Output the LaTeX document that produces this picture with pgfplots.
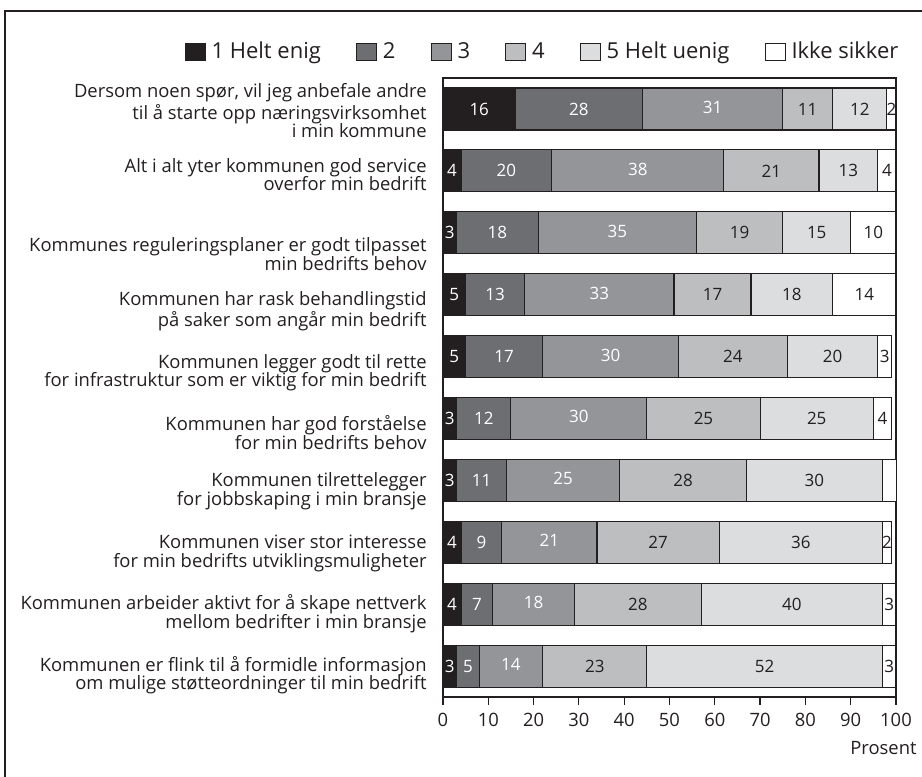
\documentclass[border=0pt]{standalone}
\usepackage{fontspec}
\setmainfont{Open Sans}
\usepackage{pgfplots}
\pgfplotsset{compat=1.18}
\usepackage{pgfplotstable}

\definecolor{frame}{HTML}{231F20}
\definecolor{s1}{HTML}{231F20}
\definecolor{s2}{HTML}{6D6E71}
\definecolor{s3}{HTML}{939598}
\definecolor{s4}{HTML}{BCBEC0}
\definecolor{s5}{HTML}{DCDDDE}
\definecolor{s6}{HTML}{FFFFFF}

% Share of answers (percent) per statement, from "1 Helt enig" to "Ikke sikker"
\pgfplotstableread{
row c1 c2 c3 c4 c5 c6
1  16 28 31 11 12 2
2  4  20 38 21 13 4
3  3  18 35 19 15 10
4  5  13 33 17 18 14
5  5  17 30 24 20 3
6  3  12 30 25 25 4
7  3  11 25 28 30 4
8  4  9  21 27 36 2
9  4  7  18 28 40 3
10 3  5  14 23 52 3
}\survey

% fixed space after a legend entry
\newcommand\gap{\rule{14.5pt}{0pt}}

\begin{document}
\begin{tikzpicture}
\path[use as bounding box, clip] (-221.5pt,-40pt) rectangle (239.5pt,348.5pt);
\draw[frame, line width=1.1pt] (-219pt,343pt) rectangle (260pt,-80pt);
\begin{axis}[
  scale only axis,
  width=226.5pt, height=309.5pt,
  xbar stacked,
  bar width=21pt,
  y dir=reverse,
  xmin=0, xmax=100, ymin=0.5, ymax=10.5,
  clip=true,
  axis line style={frame, line width=0.7pt},
  xtick={0,10,...,100},
  xtick pos=bottom,
  tick align=outside,
  major tick length=4pt,
  x tick style={frame, line width=0.6pt},
  y tick style={draw=none},
  /pgf/number format/assume math mode=true,
  xticklabel style={font=\fontsize{9.2}{10}\selectfont, text=frame, inner sep=0pt, yshift=-4pt},
  ytick={1.03,2.06,3.34,4.27,5.26,6.23,7.18,8.18,9.15,10.15},
  yticklabels={
    {Dersom noen spør, vil jeg anbefale andre\\til å starte opp næringsvirksomhet\\i min kommune},
    {Alt i alt yter kommunen god service\\overfor min bedrift},
    {Kommunes reguleringsplaner er godt tilpasset\\min bedrifts behov},
    {Kommunen har rask behandlingstid\\på saker som angår min bedrift},
    {Kommunen legger godt til rette\\for infrastruktur som er viktig for min bedrift},
    {Kommunen har god forståelse\\for min bedrifts behov},
    {Kommunen tilrettelegger\\for jobbskaping i min bransje},
    {Kommunen viser stor interesse\\for min bedrifts utviklingsmuligheter},
    {Kommunen arbeider aktivt for å skape nettverk\\mellom bedrifter i min bransje},
    {Kommunen er flink til å formidle informasjon\\om mulige støtteordninger til min bedrift}},
  yticklabel style={align=right, font=\fontsize{9.2}{9.3}\selectfont, text=frame, inner sep=0pt, xshift=-4pt},
  xlabel={Prosent},
  xlabel style={at={(axis description cs:1.0464,-0.0824)}, anchor=east, inner sep=0pt,
    font=\fontsize{9.2}{10}\selectfont, text=frame},
  nodes near coords,
  point meta=explicit,
  every node near coord/.append style={anchor=center,
    font=\fontsize{8.5}{10}\selectfont, inner sep=0pt},
  every axis plot/.append style={draw=frame, line width=0.55pt,
    legend image code/.code={\draw[##1, draw=frame, line width=0.5pt] (0pt,-4.25pt) rectangle (10pt,4.25pt);}},
  legend columns=6,
  legend style={at={(axis description cs:1.0195,1.042)}, anchor=east, draw=none, fill=none,
    inner sep=0pt, font=\fontsize{11}{12}\selectfont, text=frame,
    nodes={inner sep=3pt}},
]
\addplot[fill=s1, nodes near coords style={text=white}]
  table[x=c1, y=row, meta=c1] {\survey};
\addplot[fill=s2, nodes near coords style={text=white}]
  table[x=c2, y=row, meta=c2] {\survey};
\addplot[fill=s3, nodes near coords style={text=white, yshift=0.8pt}]
  table[x=c3, y=row, meta=c3] {\survey};
\addplot[fill=s4, nodes near coords style={text=frame}]
  table[x=c4, y=row, meta=c4] {\survey};
\addplot[fill=s5, nodes near coords style={text=frame}]
  table[x=c5, y=row, meta=c5] {\survey};
\addplot[fill=s6, nodes near coords style={text=frame}]
  table[x=c6, y=row, meta=c6] {\survey};
\legend{1 Helt enig\gap, 2\gap, 3\gap, 4\gap, 5 Helt uenig\gap, Ikke sikker}
\end{axis}
\end{tikzpicture}
\end{document}
